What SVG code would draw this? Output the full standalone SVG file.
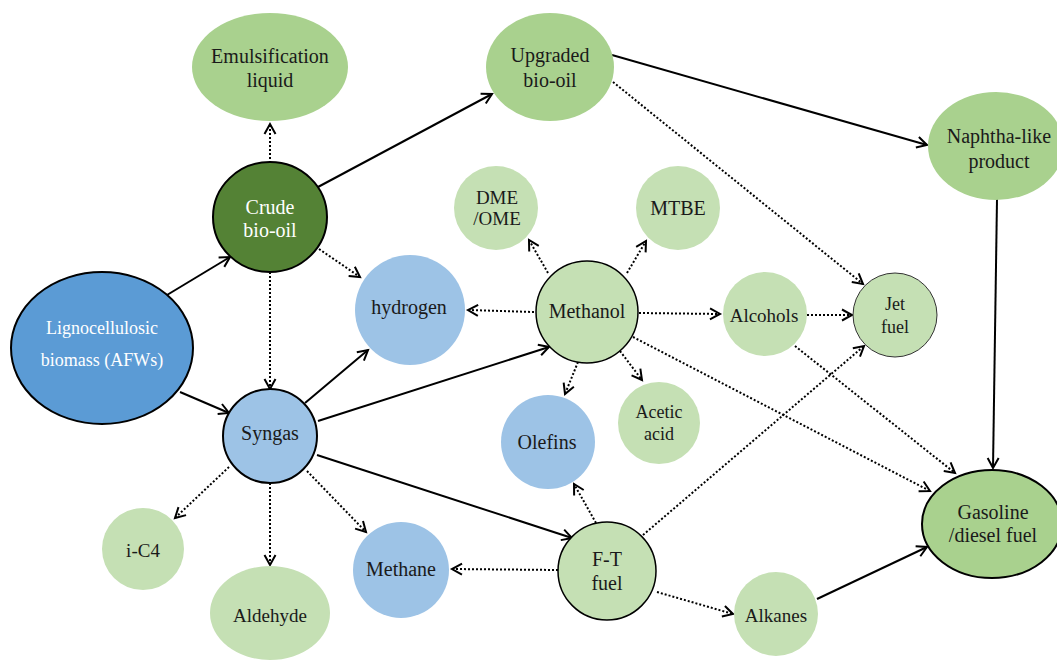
<svg xmlns="http://www.w3.org/2000/svg" width="1057" height="664" viewBox="0 0 1057 664">
<style>
.t{font-family:"Liberation Serif","Times New Roman",serif;fill:#1a1a1a;text-anchor:middle;dominant-baseline:central;font-size:20px}
.w{fill:#ffffff}
.s18{font-size:18px}
.s19{font-size:19px}
.mg{fill:#a9d18e}
.lg{fill:#c5e0b4}
.lb{fill:#9dc3e6}
.solid{stroke:#000;stroke-width:2;fill:none;marker-end:url(#ah)}
.dot{stroke:#000;stroke-width:2;fill:none;stroke-dasharray:2 2;marker-end:url(#ah)}
</style>
<defs>
<marker id="ah" markerUnits="userSpaceOnUse" markerWidth="14" markerHeight="14" viewBox="0 0 14 14" refX="11" refY="7" orient="auto">
<path d="M1,1.5 L11,7 L1,12.5" fill="none" stroke="#000" stroke-width="2"/>
</marker>
</defs>
<rect width="1057" height="664" fill="#ffffff"/>
<g id="connectors">
<line class="solid" x1="167" y1="295" x2="230" y2="257"/>
<line class="solid" x1="180" y1="392" x2="229" y2="413"/>
<line class="solid" x1="318" y1="187" x2="492" y2="94"/>
<line class="solid" x1="612" y1="55" x2="927" y2="145"/>
<line class="solid" x1="997" y1="199" x2="993" y2="468"/>
<line class="solid" x1="305" y1="403" x2="368" y2="350"/>
<line class="solid" x1="318" y1="421" x2="549" y2="347"/>
<line class="solid" x1="317" y1="455" x2="572" y2="538"/>
<line class="solid" x1="817" y1="599" x2="927" y2="547"/>
<line class="dot" x1="270" y1="163" x2="270" y2="124"/>
<line class="dot" x1="319" y1="249" x2="360" y2="277"/>
<line class="dot" x1="270" y1="272" x2="270" y2="389"/>
<line class="dot" x1="613" y1="82" x2="863" y2="284"/>
<line class="dot" x1="548" y1="273" x2="529" y2="240"/>
<line class="dot" x1="627" y1="273" x2="646" y2="241"/>
<line class="dot" x1="534" y1="312" x2="468" y2="310"/>
<line class="dot" x1="639" y1="313" x2="720" y2="314"/>
<line class="dot" x1="578" y1="362" x2="565" y2="394"/>
<line class="dot" x1="620" y1="351" x2="642" y2="380"/>
<line class="dot" x1="633" y1="337" x2="930" y2="491"/>
<line class="dot" x1="807" y1="315" x2="852" y2="315"/>
<line class="dot" x1="795" y1="346" x2="955" y2="473"/>
<line class="dot" x1="643" y1="535" x2="864" y2="346"/>
<line class="dot" x1="596" y1="523" x2="574" y2="484"/>
<line class="dot" x1="558" y1="570" x2="452" y2="569"/>
<line class="dot" x1="657" y1="592" x2="733" y2="614"/>
<line class="dot" x1="229" y1="467" x2="175" y2="518"/>
<line class="dot" x1="270" y1="483" x2="270" y2="565"/>
<line class="dot" x1="307" y1="471" x2="366" y2="532"/>
</g>
<g id="emulsification"><ellipse class="mg" cx="270" cy="67" rx="78" ry="54"/><text class="t" x="270" y="56">Emulsification</text><text class="t" x="270" y="80">liquid</text></g>
<g id="upgraded"><ellipse class="mg" cx="550" cy="67" rx="64" ry="54"/><text class="t" x="550" y="55">Upgraded</text><text class="t" x="550" y="80">bio-oil</text></g>
<g id="naphtha"><ellipse class="mg" cx="996" cy="146" rx="68" ry="54"/><text class="t" x="999" y="136">Naphtha-like</text><text class="t" x="999" y="161">product</text></g>
<g id="crude"><ellipse cx="270" cy="217" rx="57" ry="55" fill="#548235" stroke="#000" stroke-width="2"/><text class="t w" x="270" y="207">Crude</text><text class="t w" x="270" y="230">bio-oil</text></g>
<g id="dme"><circle class="lg" cx="496" cy="208" r="42"/><text class="t s19" x="497" y="197">DME</text><text class="t s19" x="497" y="218">/OME</text></g>
<g id="mtbe"><circle class="lg" cx="678" cy="208" r="42"/><text class="t" x="678" y="208">MTBE</text></g>
<g id="ligno"><ellipse cx="102" cy="348" rx="91" ry="76" fill="#5b9bd5" stroke="#000" stroke-width="2"/><text class="t w s18" x="102" y="328">Lignocellulosic</text><text class="t w s18" x="102" y="360">biomass (AFWs)</text></g>
<g id="hydrogen"><circle class="lb" cx="410" cy="310" r="55"/><text class="t" x="409" y="307">hydrogen</text></g>
<g id="methanol"><circle class="lg" cx="587" cy="312" r="51" stroke="#000" stroke-width="1.5"/><text class="t" x="587" y="311">Methanol</text></g>
<g id="alcohols"><circle class="lg" cx="765" cy="314" r="42"/><text class="t s19" x="764" y="315">Alcohols</text></g>
<g id="jetfuel"><circle class="lg" cx="895" cy="315" r="42" stroke="#333" stroke-width="1"/><text class="t s18" x="895" y="304">Jet</text><text class="t s18" x="895" y="327">fuel</text></g>
<g id="syngas"><circle class="lb" cx="270" cy="436" r="47" stroke="#000" stroke-width="2"/><text class="t" x="270" y="433">Syngas</text></g>
<g id="olefins"><circle class="lb" cx="548" cy="442" r="47"/><text class="t" x="547" y="442">Olefins</text></g>
<g id="acetic"><circle class="lg" cx="659" cy="423" r="41"/><text class="t s18" x="659" y="412">Acetic</text><text class="t s18" x="659" y="434">acid</text></g>
<g id="gasoline"><ellipse class="mg" cx="992" cy="524" rx="70" ry="54" stroke="#000" stroke-width="2"/><text class="t" x="993" y="512">Gasoline</text><text class="t" x="993" y="535">/diesel fuel</text></g>
<g id="ic4"><circle class="lg" cx="143" cy="549" r="41"/><text class="t s19" x="143" y="550">i-C4</text></g>
<g id="aldehyde"><ellipse class="lg" cx="270" cy="613" rx="60" ry="47"/><text class="t s19" x="270" y="615">Aldehyde</text></g>
<g id="methane"><circle class="lb" cx="401" cy="570" r="48"/><text class="t" x="401" y="569">Methane</text></g>
<g id="ftfuel"><circle class="lg" cx="607" cy="571" r="49" stroke="#000" stroke-width="1.5"/><text class="t" x="607" y="559">F-T</text><text class="t" x="607" y="583">fuel</text></g>
<g id="alkanes"><circle class="lg" cx="776" cy="614" r="42"/><text class="t s19" x="776" y="615">Alkanes</text></g>
</svg>
